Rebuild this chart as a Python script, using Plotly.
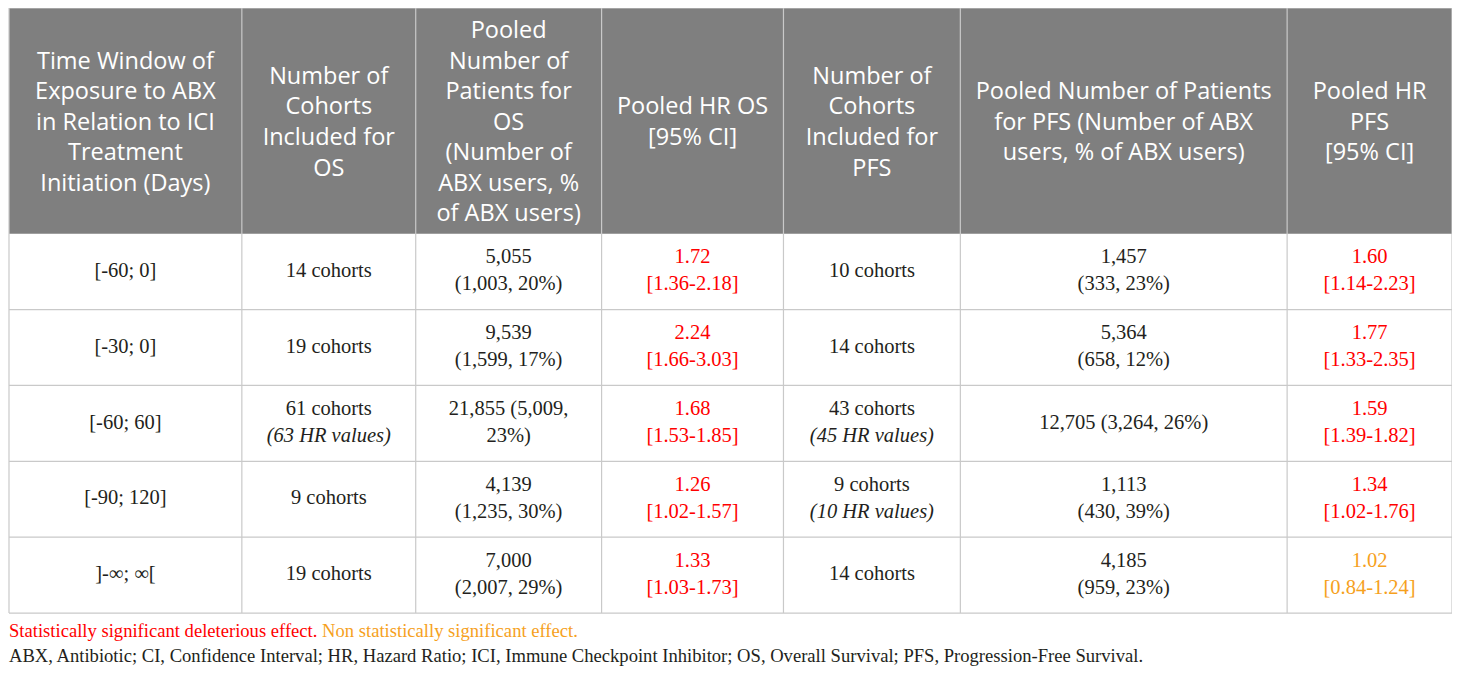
import plotly.graph_objects as go

# table content
headers = [
    "Time Window of<br>Exposure to ABX<br>in Relation to ICI<br>Treatment<br>Initiation (Days)",
    "Number of<br>Cohorts<br>Included for<br>OS",
    "Pooled<br>Number of<br>Patients for<br>OS<br>(Number of<br>ABX users, %<br>of ABX users)",
    "Pooled HR OS<br>[95% CI]",
    "Number of<br>Cohorts<br>Included for<br>PFS",
    "Pooled Number of Patients<br>for PFS (Number of ABX<br>users, % of ABX users)",
    "Pooled HR<br>PFS<br>[95% CI]",
]
windows = ["[-60; 0]", "[-30; 0]", "[-60; 60]", "[-90; 120]", "]-∞; ∞["]

os_cohorts = [14, 19, 61, 9, 19]
os_hr_values = [None, None, 63, None, None]
os_patients = [5055, 9539, 21855, 4139, 7000]
os_abx_users = [1003, 1599, 5009, 1235, 2007]
os_abx_pct = [20, 17, 23, 30, 29]
os_hr = [1.72, 2.24, 1.68, 1.26, 1.33]
os_ci_low = [1.36, 1.66, 1.53, 1.02, 1.03]
os_ci_high = [2.18, 3.03, 1.85, 1.57, 1.73]

pfs_cohorts = [10, 14, 43, 9, 14]
pfs_hr_values = [None, None, 45, 10, None]
pfs_patients = [1457, 5364, 12705, 1113, 4185]
pfs_abx_users = [333, 658, 3264, 430, 959]
pfs_abx_pct = [23, 12, 26, 39, 23]
pfs_hr = [1.60, 1.77, 1.59, 1.34, 1.02]
pfs_ci_low = [1.14, 1.33, 1.39, 1.02, 0.84]
pfs_ci_high = [2.23, 2.35, 1.82, 1.76, 1.24]

legend_sig = "Statistically significant deleterious effect."
legend_ns = "Non statistically significant effect."
footnote = ("ABX, Antibiotic; CI, Confidence Interval; HR, Hazard Ratio; ICI, Immune Checkpoint "
            "Inhibitor; OS, Overall Survival; PFS, Progression-Free Survival.")

# layout (page pixel units; the page body has an 8px margin)
W, H, PAGE_OFF = 1460, 675, 8
col_edges = [8, 241, 415, 601, 783, 960, 1287, 1452]
top, head_bottom, row_h = 7, 233, 76
HEAD_FILL = "#7f7f7f"
GRID = "#c9c9c9"
RED = "#ff0000"
ORANGE = "#f6a11d"
INK = "#231f20"
SERIF = "Liberation Serif"
SANS = "Open Sans"


def cohorts_txt(n, hrv):
    s = f"{n} cohorts"
    if hrv:
        s += f"<br><i>({hrv} HR values)</i>"
    return s


def hr_txt(hr, lo, hi):
    return f"{hr:.2f}<br>[{lo:.2f}-{hi:.2f}]"


def hr_color(lo):
    return RED if lo > 1 else ORANGE


col_mid = [(col_edges[i] + col_edges[i + 1]) / 2 for i in range(len(col_edges) - 1)]
n_rows = len(windows)
row_mid = [head_bottom + row_h * (i + 0.5) for i in range(n_rows)]
bottom = head_bottom + row_h * n_rows

cx, cy, ct, cc = [], [], [], []
for i in range(n_rows):
    wide = os_patients[i] > 10000
    if wide:
        os_p = f"{os_patients[i]:,} ({os_abx_users[i]:,},<br>{os_abx_pct[i]}%)"
        pfs_p = f"{pfs_patients[i]:,} ({pfs_abx_users[i]:,}, {pfs_abx_pct[i]}%)"
    else:
        os_p = f"{os_patients[i]:,}<br>({os_abx_users[i]:,}, {os_abx_pct[i]}%)"
        pfs_p = f"{pfs_patients[i]:,}<br>({pfs_abx_users[i]:,}, {pfs_abx_pct[i]}%)"
    cells = [
        (windows[i], INK),
        (cohorts_txt(os_cohorts[i], os_hr_values[i]), INK),
        (os_p, INK),
        (hr_txt(os_hr[i], os_ci_low[i], os_ci_high[i]), hr_color(os_ci_low[i])),
        (cohorts_txt(pfs_cohorts[i], pfs_hr_values[i]), INK),
        (pfs_p, INK),
        (hr_txt(pfs_hr[i], pfs_ci_low[i], pfs_ci_high[i]), hr_color(pfs_ci_low[i])),
    ]
    for j, (t, c) in enumerate(cells):
        cx.append(col_mid[j])
        cy.append(row_mid[i])
        ct.append(t)
        cc.append(c)

fig = go.Figure()

fig.add_trace(go.Scatter(
    x=col_mid, y=[(top + head_bottom) / 2 + 3] * len(headers), text=headers,
    mode="text", textposition="middle center",
    textfont=dict(family=SANS, size=23.5, color="white"),
    hoverinfo="skip", showlegend=False, cliponaxis=False,
))
fig.add_trace(go.Scatter(
    x=cx, y=cy, text=ct, mode="text", textposition="middle center",
    textfont=dict(family=SERIF, size=20.5, color=cc),
    hoverinfo="skip", showlegend=False, cliponaxis=False,
))
fig.add_trace(go.Scatter(
    x=[col_edges[0], col_edges[0]], y=[632, 657],
    text=[f"<span style='color:{RED}'>{legend_sig}</span> <span style='color:{ORANGE}'>{legend_ns}</span>",
          footnote],
    mode="text", textposition="middle right",
    textfont=dict(family=SERIF, size=18.6, color=INK),
    hoverinfo="skip", showlegend=False, cliponaxis=False,
))

shapes = [dict(type="rect", x0=col_edges[0], x1=col_edges[-1], y0=top, y1=head_bottom,
               fillcolor=HEAD_FILL, line=dict(width=0), layer="below")]
for i in range(1, n_rows + 1):
    y = head_bottom + row_h * i
    shapes.append(dict(type="line", x0=col_edges[0], x1=col_edges[-1], y0=y, y1=y,
                       line=dict(color=GRID, width=1.2), layer="below"))
for xe in col_edges:
    shapes.append(dict(type="line", x0=xe, x1=xe, y0=top, y1=bottom,
                       line=dict(color=GRID, width=1.2), layer="below"))
shapes.append(dict(type="line", x0=col_edges[0], x1=col_edges[-1], y0=top, y1=top,
                   line=dict(color=GRID, width=1.2), layer="below"))

fig.update_layout(
    width=W, height=H, margin=dict(l=0, r=0, t=0, b=0),
    paper_bgcolor="white", plot_bgcolor="white",
    xaxis=dict(range=[PAGE_OFF - 1, W + PAGE_OFF], visible=False, fixedrange=True),
    yaxis=dict(range=[H + PAGE_OFF, PAGE_OFF - 1], visible=False, fixedrange=True),
    shapes=shapes,
)
fig.write_html("out.html", config={"displayModeBar": False})
